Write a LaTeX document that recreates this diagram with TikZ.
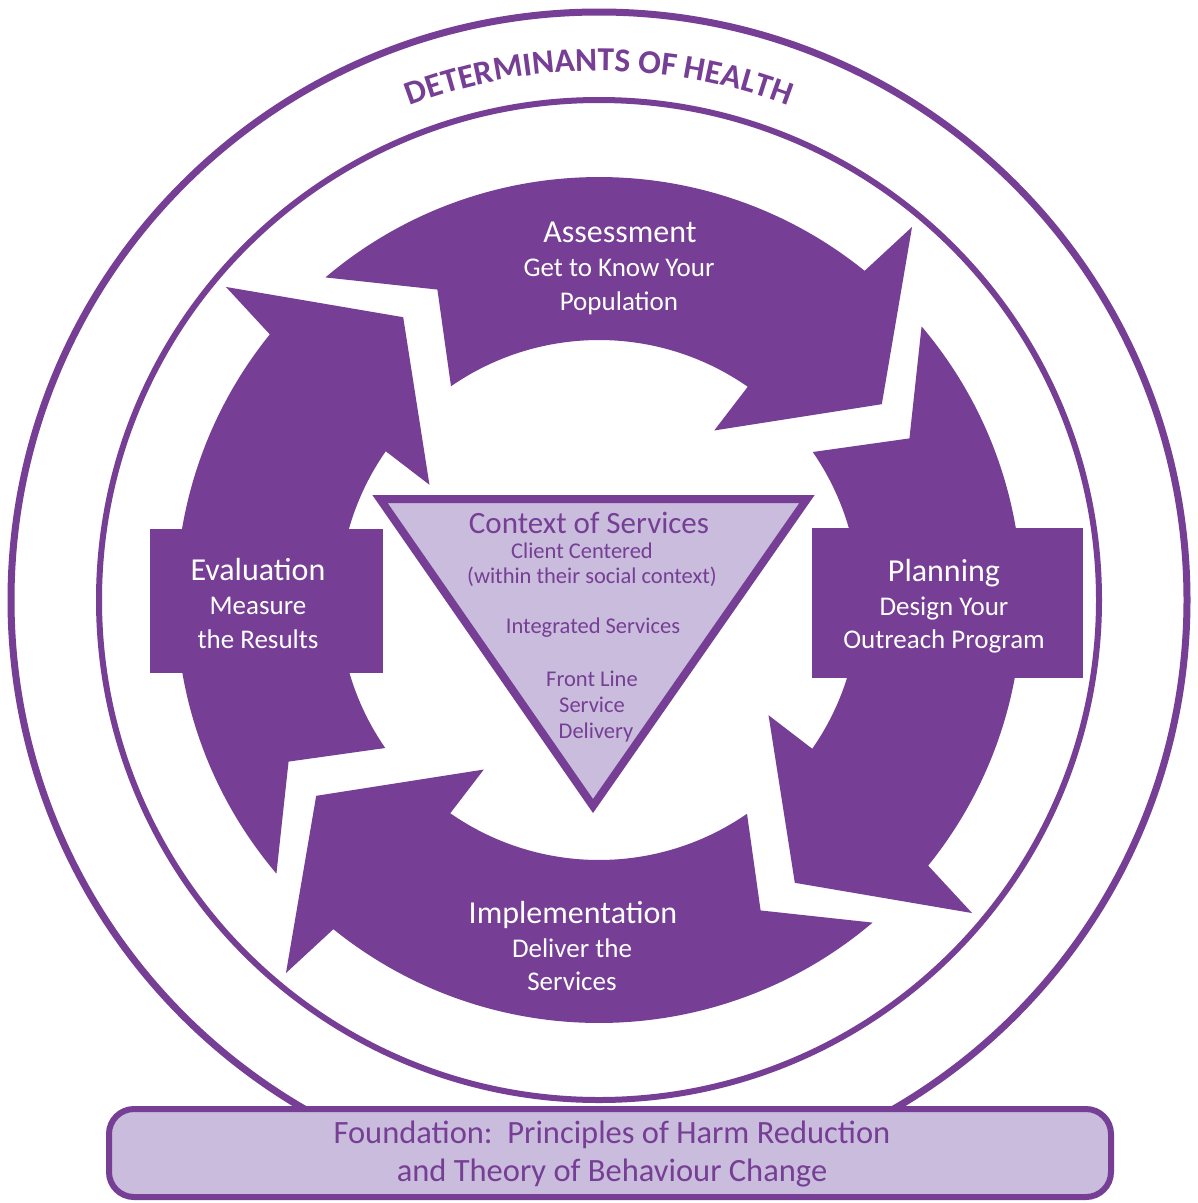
\documentclass[tikz,border=0pt]{standalone}
\usepackage{fontspec}
\setmainfont{Carlito}
\usetikzlibrary{decorations.text}
\definecolor{purp}{RGB}{118,62,148}
\definecolor{lav}{RGB}{201,188,220}
\begin{document}
\begin{tikzpicture}[x=1pt,y=1pt,
  ttl/.style={text=white, font=\fontsize{32}{32}\selectfont, anchor=base, inner sep=0pt},
  sub/.style={text=white, font=\fontsize{27}{27}\selectfont, anchor=base, inner sep=0pt},
  ctxtitle/.style={text=purp, font=\fontsize{31}{31}\selectfont, anchor=base, inner sep=0pt},
  ctx/.style={text=purp, font=\fontsize{22.5}{22.5}\selectfont, anchor=base, inner sep=0pt},
  fnd/.style={text=purp, font=\fontsize{32.5}{32.5}\selectfont, anchor=base, inner sep=0pt},
  ring/.style={draw=purp},
  phasebox/.style={fill=purp},
]
\useasboundingbox[fill=white] (0,0) rectangle (1198,-1203);
\coordinate (C) at (599,-600);
% circles
\draw[ring, line width=7] (C) circle[radius=588];
\draw[ring, line width=6] (C) circle[radius=500];
% arrows
\begin{scope}[shift={(599,-600)}]
\path[decorate, decoration={text along path, text align=center,
  text={|\fontsize{33.5}{33.5}\selectfont\bfseries\color{purp}|DETERMINANTS OF HEALTH}}]
  (135:529) arc[start angle=135, end angle=45, radius=529];
\foreach \p in {0,-90,-180,90}{
  \fill[purp] (130.3+\p:423) arc[start angle=130.3+\p, end angle=51.1+\p, radius=423]
    -- (50+\p:487) -- (34.7+\p:344) -- (55.8+\p:205) -- (55.1+\p:260)
    arc[start angle=55.1+\p, end angle=124.7+\p, radius=260]
    -- (117.5+\p:350) -- cycle;
}
\end{scope}
% boxes
\fill[phasebox] (150,-529) rectangle (383,-673);
\fill[phasebox] (812,-528) rectangle (1083,-678);
% triangle
\draw[purp, line width=8, fill=lav, line join=miter] (380,-499) -- (807,-499) -- (593,-806) -- cycle;
% foundation
\draw[purp, line width=6, fill=lav, rounded corners=25] (109,-1109) rectangle (1111,-1197);
% texts
\node[ttl] (a1) at (620,-242) {Assessment};
\node[sub] (a2) at (619,-276) {Get to Know Your};
\node[sub] (a3) at (619,-310) {Population};
\node[ttl] (p1) at (944,-581) {Planning};
\node[sub] (p2) at (944,-615) {Design Your};
\node[sub] (p3) at (944,-648) {Outreach Program};
\node[ttl] (i1) at (573,-923) {Implementation};
\node[sub] (i2) at (572,-957) {Deliver the};
\node[sub] (i3) at (572,-990) {Services};
\node[ttl] (e1) at (258,-580) {Evaluation};
\node[sub] (e2) at (258,-614) {Measure};
\node[sub] (e3) at (258,-648) {the Results};
\node[ctxtitle] (c1) at (589,-533) {Context of Services};
\node[ctx] (c2) at (582,-558) {Client Centered};
\node[ctx] (c3) at (592,-583) {(within their social context)};
\node[ctx] (c4) at (593,-633) {Integrated Services};
\node[ctx] (c5) at (592,-686) {Front Line};
\node[ctx] (c6) at (592,-712) {Service};
\node[ctx] (c7) at (596,-738) {Delivery};
\node[fnd] (f1) at (612,-1143) {Foundation:\ \ Principles of Harm Reduction};
\node[fnd] (f2) at (612,-1181) {and Theory of Behaviour Change};
\end{tikzpicture}
\end{document}
